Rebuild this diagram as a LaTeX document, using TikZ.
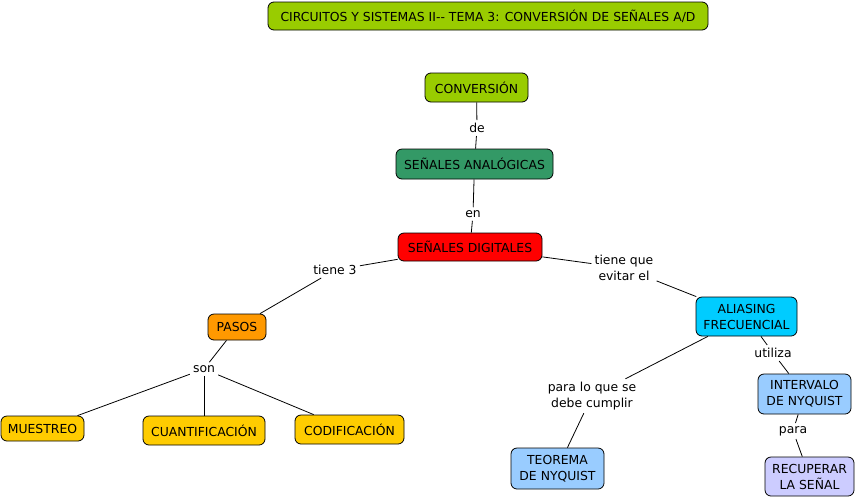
\documentclass[tikz,border=0pt]{standalone}
\usepackage{fontspec}
\setmainfont{DejaVu Sans}
\usetikzlibrary{positioning}
\definecolor{verdelima}{RGB}{153,204,0}
\definecolor{verdemar}{RGB}{51,153,102}
\definecolor{rojo}{RGB}{255,0,0}
\definecolor{naranja}{RGB}{255,153,0}
\definecolor{amarillo}{RGB}{255,204,0}
\definecolor{celeste}{RGB}{0,204,255}
\definecolor{azulclaro}{RGB}{153,204,255}
\definecolor{lavanda}{RGB}{204,204,255}
\begin{document}
\begin{tikzpicture}[x=1pt,y=-1pt,
    concepto/.style={draw=black, line width=0.8pt, rounded corners=6pt, align=center,
        inner sep=0pt, font=\fontsize{12.4}{16}\selectfont},
    enlace/.style={align=center, inner sep=3pt, font=\fontsize{12.4}{16}\selectfont},
    linea/.style={line width=0.8pt}]
    \useasboundingbox (0,0) rectangle (856,499);
    % Title
    \node[concepto, fill=verdelima, minimum width=440pt, minimum height=28pt] (titulo) at (488,16)
        {CIRCUITOS Y SISTEMAS II-{}- TEMA 3: CONVERSIÓN DE SEÑALES A/D};

    % Main chain
    \node[concepto, fill=verdelima, minimum width=103pt, minimum height=29pt] (conversion) at (476.5,87.5) {CONVERSIÓN};
    \node[enlace] (de) at (477,128) {de};
    \node[concepto, fill=verdemar, minimum width=157pt, minimum height=30pt] (analogicas) at (474.5,164) {SEÑALES ANALÓGICAS};
    \node[enlace] (en) at (473,214) {en};
    \node[concepto, fill=rojo, minimum width=144pt, minimum height=28pt] (digitales) at (470,247) {SEÑALES DIGITALES};

    % Steps
    \node[enlace] (tiene3) at (335,270) {tiene 3};
    \node[concepto, fill=naranja, minimum width=58pt, minimum height=26pt] (pasos) at (237,327) {PASOS};
    \node[enlace] (son) at (204,369) {son};
    \node[concepto, fill=amarillo, minimum width=83pt, minimum height=25pt] (muestreo) at (42.5,428.5) {MUESTREO};
    \node[concepto, fill=amarillo, minimum width=122pt, minimum height=29pt] (cuantif) at (204,430.5) {CUANTIFICACIÓN};
    \node[concepto, fill=amarillo, minimum width=109pt, minimum height=29pt] (codif) at (349.5,429.5) {CODIFICACIÓN};

    % Aliasing branch
    \node[enlace] (evitar) at (624,268) {tiene que\\evitar el};
    \node[concepto, fill=celeste, minimum width=101pt, minimum height=39pt] (aliasing) at (746.5,316.5) {ALIASING\\FRECUENCIAL};
    \node[enlace] (utiliza) at (773,353) {utiliza};
    \node[concepto, fill=azulclaro, minimum width=93pt, minimum height=40pt] (intervalo) at (804.5,394) {INTERVALO\\DE NYQUIST};
    \node[enlace] (para) at (793,431) {para};
    \node[concepto, fill=lavanda, minimum width=89pt, minimum height=39pt] (recuperar) at (809.5,476.5) {RECUPERAR\\LA SEÑAL};
    \node[enlace] (cumplir) at (592,396) {para lo que se\\debe cumplir};
    \node[concepto, fill=azulclaro, minimum width=93pt, minimum height=41pt] (teorema) at (557.5,468.5) {TEOREMA\\DE NYQUIST};

    % Connectors
    \draw[linea] (conversion) -- (de);
    \draw[linea] (de) -- (analogicas);
    \draw[linea] (analogicas) -- (en);
    \draw[linea] (en) -- (digitales);
    \draw[linea] (digitales) -- (tiene3);
    \draw[linea] (tiene3) -- (pasos);
    \draw[linea] (pasos) -- (son);
    \draw[linea] (son) -- (muestreo);
    \draw[linea] (son) -- (cuantif);
    \draw[linea] (son) -- (codif);
    \draw[linea] (digitales) -- (evitar);
    \draw[linea] (evitar) -- (aliasing);
    \draw[linea] (aliasing) -- (utiliza);
    \draw[linea] (utiliza) -- (intervalo);
    \draw[linea] (intervalo) -- (para);
    \draw[linea] (para) -- (recuperar);
    \draw[linea] (aliasing) -- (cumplir);
    \draw[linea] (cumplir) -- (teorema);
\end{tikzpicture}
\end{document}
